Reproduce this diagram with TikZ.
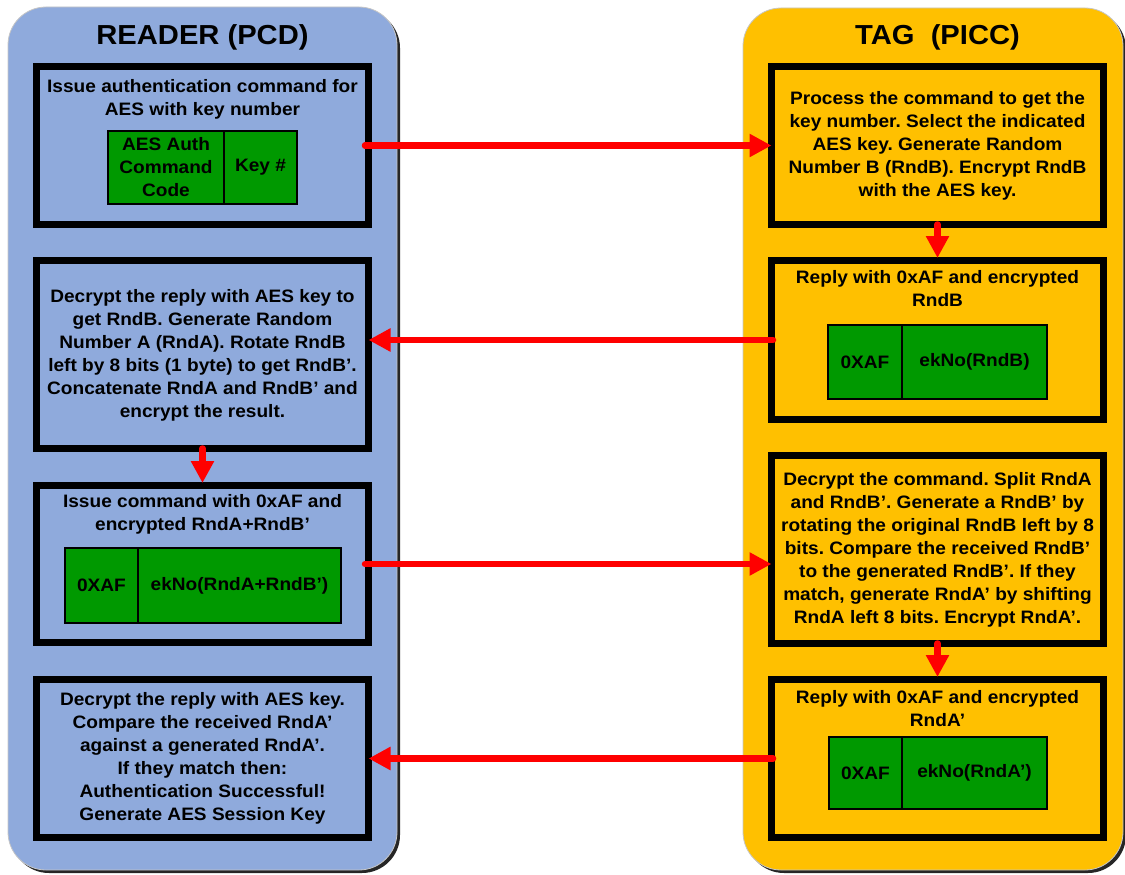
\documentclass[tikz,border=0pt]{standalone}
\usepackage{fontspec}
\setmainfont{Liberation Sans}[FakeStretch=1.06]
\usetikzlibrary{arrows.meta}
\definecolor{panelblue}{RGB}{143,170,220}
\definecolor{panelyellow}{RGB}{255,192,0}
\definecolor{cellgreen}{RGB}{0,153,0}
\definecolor{arrowred}{RGB}{255,0,0}
\frenchspacing
\begin{document}
\begin{tikzpicture}[x=1pt,y=-1pt,
  panelshadow/.style={fill=black!85, rounded corners=38pt},
  panel/.style={draw=gray!45, line width=0.8pt, rounded corners=38pt},
  stepbox/.style={draw=black, line width=7pt, inner sep=0pt, outer sep=0pt, minimum width=332pt},
  txt/.style={font=\bfseries\fontsize{18}{23}\selectfont, align=center, inner sep=0pt},
  cell/.style={draw=black, fill=cellgreen, line width=1.5pt, inner sep=0pt, outer sep=0pt,
    font=\bfseries\fontsize{18}{23}\selectfont, align=center},
  paneltitle/.style={font=\bfseries\fontsize{27.5}{30}\selectfont, inner sep=0pt, anchor=base},
  arr/.style={draw=arrowred, line width=6.5pt, line cap=round, -{Triangle[length=22pt,width=22pt]}},
  varr/.style={arr, shorten >=2.5pt}
]
\useasboundingbox (0,0) rectangle (1125,875);
% panels
\fill[panelshadow] (11,10) rectangle (400,873);
\filldraw[panel, fill=panelblue] (8,7) rectangle (397,870);
\fill[panelshadow] (746,11) rectangle (1126,873);
\filldraw[panel, fill=panelyellow] (743,8) rectangle (1123,870);
\node[paneltitle] (readertitle) at (202.5,45) {READER (PCD)};
\node[paneltitle] (tagtitle) at (937.5,45) {TAG\ \ (PICC)};

% reader boxes
\node[stepbox, fill=panelblue, minimum height=158pt] (L1) at (202.5,145.5) {};
\node[stepbox, fill=panelblue, minimum height=188pt] (L2) at (202.5,354.5) {};
\node[stepbox, fill=panelblue, minimum height=157pt] (L3) at (202.5,564) {};
\node[stepbox, fill=panelblue, minimum height=158pt] (L4) at (202.5,758.5) {};
% tag boxes
\node[stepbox, fill=panelyellow, minimum height=158pt] (R1) at (937.5,145.5) {};
\node[stepbox, fill=panelyellow, minimum height=159pt] (R2) at (937.5,340) {};
\node[stepbox, fill=panelyellow, minimum height=188pt] (R3) at (937.5,549.5) {};
\node[stepbox, fill=panelyellow, minimum height=158pt] (R4) at (937.5,758.5) {};

% texts
\node[txt, anchor=north] (L1t) at (202.5,79) {Issue authentication command for\\AES with key number};
\node[txt] (L2t) at (202.5,355) {Decrypt the reply with AES key to\\get RndB. Generate Random\\Number A (RndA). Rotate RndB\\left by 8 bits (1 byte) to get RndB’.\\Concatenate RndA and RndB’ and\\encrypt the result.};
\node[txt, anchor=north] (L3t) at (202.5,494) {Issue command with 0xAF and\\encrypted RndA+RndB’};
\node[txt] (L4t) at (202.5,758.5) {Decrypt the reply with AES key.\\Compare the received RndA’\\against a generated RndA’.\\If they match then:\\Authentication Successful!\\Generate AES Session Key};
\node[txt] (R1t) at (937.5,146) {Process the command to get the\\key number. Select the indicated\\AES key. Generate Random\\Number B (RndB). Encrypt RndB\\with the AES key.};
\node[txt, anchor=north] (R2t) at (937.5,270) {Reply with 0xAF and encrypted\\RndB};
\node[txt] (R3t) at (937.5,550) {Decrypt the command. Split RndA\\and RndB’. Generate a RndB’ by\\rotating the original RndB left by 8\\bits. Compare the received RndB’\\to the generated RndB’. If they\\match, generate RndA’ by shifting\\RndA left 8 bits. Encrypt RndA’.};
\node[txt, anchor=north] (R4t) at (937.5,690) {Reply with 0xAF and encrypted\\RndA’};

% green cells
\node[cell, minimum width=116pt, minimum height=73pt] (L1a) at (166,167.5) {AES Auth\\Command\\Code};
\node[cell, minimum width=73pt, minimum height=73pt] (L1b) at (260.5,167.5) {Key \#};
\node[cell, minimum width=74pt, minimum height=74pt] (R2a) at (865,362) {0XAF};
\node[cell, minimum width=145pt, minimum height=74pt] (R2b) at (974.5,362) {ekNo(RndB)};
\node[cell, minimum width=73pt, minimum height=75pt] (L3a) at (101.5,585.5) {0XAF};
\node[cell, minimum width=203pt, minimum height=75pt] (L3b) at (239.5,585.5) {ekNo(RndA+RndB’)};
\node[cell, minimum width=73pt, minimum height=72pt] (R4a) at (865.5,773) {0XAF};
\node[cell, minimum width=145pt, minimum height=72pt] (R4b) at (974.5,773) {ekNo(RndA’)};

% arrows
\draw[arr] ([xshift=-3.5pt]L1.east) -- (R1.west);
\draw[varr] (R1.south) -- (R2.north);
\draw[arr] ([xshift=1.5pt]R2.west) -- (L2.east |- R2.west);
\draw[varr] (L2.south) -- (L3.north);
\draw[arr] ([xshift=-3.5pt]L3.east) -- (R3.west |- L3.east);
\draw[varr] (R3.south) -- (R4.north);
\draw[arr] ([xshift=1.5pt]R4.west) -- (L4.east);
\end{tikzpicture}
\end{document}
